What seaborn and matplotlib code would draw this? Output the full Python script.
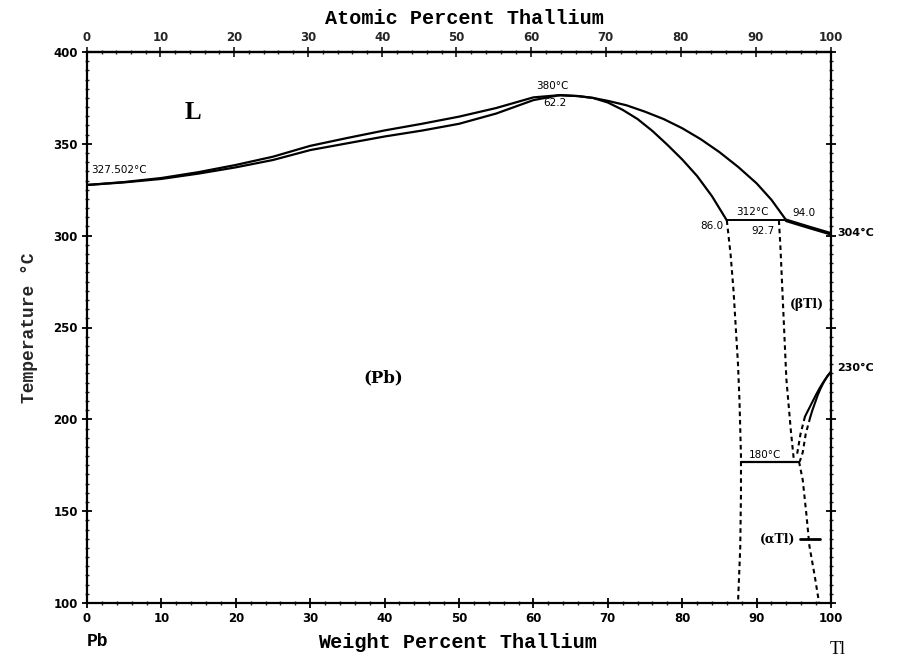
import numpy as np
import pandas as pd
import matplotlib
matplotlib.use("Agg")
import matplotlib.pyplot as plt
import seaborn as sns
from matplotlib.ticker import MultipleLocator

# ---------------- data ----------------
liq_left_x = [0, 5, 10, 15, 20, 25, 30, 35, 40, 45, 50, 55, 60, 63.5]
liq_left_T = [327.6, 329.2, 331.4, 334.6, 338.5, 343.0, 348.9, 353.2, 357.3, 360.9,
              364.8, 369.5, 375.3, 376.5]
sol_left_x = [0, 5, 10, 15, 20, 25, 30, 35, 40, 45, 50, 55, 60, 63.5]
sol_left_T = [327.6, 329.0, 330.9, 333.8, 337.2, 341.2, 346.6, 350.3, 354.0, 357.2,
              360.9, 366.5, 373.8, 376.5]

liq_right_x = [63.5, 66, 68, 70, 72.5, 75, 77.5, 80, 82.5, 85, 87.5, 90, 92, 94.0]
liq_right_T = [376.5, 376.0, 375.0, 373.4, 371.0, 367.5, 363.5, 358.5, 352.5, 345.5,
               337.5, 328.5, 319.5, 308.3]
sol_right_x = [63.5, 66, 68, 70, 72, 74, 76, 78, 80, 82, 84, 86.0]
sol_right_T = [376.5, 376.0, 375.0, 372.5, 368.5, 363.5, 357.0, 349.5, 341.5, 332.5,
               321.5, 308.3]

liq_tl_x = [94.0, 97.0, 100.0]
liq_tl_T = [308.3, 304.6, 301.0]

peritectic_x = [86.0, 94.0]
peritectic_T = [308.3, 308.3]

pb_solvus_x = [86.0, 86.5, 86.9, 87.2, 87.5, 87.7, 87.9, 87.9, 87.8, 87.5]
pb_solvus_T = [308.3, 290.0, 270.0, 250.0, 230.0, 210.0, 180.0, 160.0, 130.0, 100.0]

btl_left_x = [93.0, 93.2, 93.4, 93.6, 93.8, 94.0, 94.3, 94.6, 95.0]
btl_left_T = [308.3, 294.0, 276.0, 258.0, 240.0, 222.0, 208.0, 194.0, 178.0]

tra_solid_x = [100.0, 99.5, 99.0, 98.5, 98.0, 97.5, 97.0, 96.5]
tra_solid_T = [226.0, 223.5, 220.5, 217.2, 213.5, 209.5, 205.5, 201.5]
tra_dash_x = [96.5, 95.9, 95.4]
tra_dash_T = [201.5, 192.0, 180.0]
trb_solid_x = [100.0, 99.5, 99.0, 98.6, 98.2, 97.9, 97.5, 97.2]
trb_solid_T = [226.0, 223.3, 220.0, 216.8, 213.0, 209.5, 205.0, 201.0]
trb_dash_x = [97.2, 96.6, 96.2, 95.8]
trb_dash_T = [201.0, 192.0, 182.0, 177.0]

eutectoid_x = [87.9, 95.7]
eutectoid_T = [177.0, 177.0]

atl_solvus_x = [95.7, 96.2, 96.7, 97.1, 97.8, 98.4]
atl_solvus_T = [177.0, 167.0, 148.0, 131.0, 115.0, 100.0]

atl_mark_x = [95.8, 98.5]
atl_mark_T = [135.0, 135.0]

x_ticks = [0, 10, 20, 30, 40, 50, 60, 70, 80, 90, 100]
y_ticks = [100, 150, 200, 250, 300, 350, 400]

M_PB, M_TL = 207.2, 204.38

def wt_to_at(w):
    w = np.asarray(w, dtype=float)
    a = w / M_TL
    b = (100 - w) / M_PB
    with np.errstate(divide="ignore", invalid="ignore"):
        return 100 * a / (a + b)

def at_to_wt(at):
    at = np.asarray(at, dtype=float)
    a = at * M_TL
    b = (100 - at) * M_PB
    with np.errstate(divide="ignore", invalid="ignore"):
        return 100 * a / (a + b)

# ---------------- figure ----------------
sns.set_theme(style="ticks")
plt.rcParams["font.family"] = ["DejaVu Sans"]

fig = plt.figure(figsize=(9.01, 6.61), dpi=100)
ax = fig.add_axes([87 / 901, 1 - 603 / 661, 744 / 901, 551 / 661])

def line(xs, ts, lw=1.6, ls="-"):
    df = pd.DataFrame({"x": xs, "T": ts})
    sns.lineplot(data=df, x="x", y="T", ax=ax, color="black", linewidth=lw,
                 sort=False, estimator=None, linestyle=ls)

line(liq_left_x, liq_left_T)
line(sol_left_x, sol_left_T)
line(liq_right_x, liq_right_T)
line(sol_right_x, sol_right_T)
line(liq_tl_x, liq_tl_T, lw=2.6)
line(peritectic_x, peritectic_T, lw=1.4)
dash = (0, (2.2, 1.8))
line(pb_solvus_x, pb_solvus_T, lw=1.5, ls=dash)
line(btl_left_x, btl_left_T, lw=1.5, ls=dash)
line(tra_solid_x, tra_solid_T, lw=1.5)
line(trb_solid_x, trb_solid_T, lw=1.5)
line(tra_dash_x, tra_dash_T, lw=1.5, ls=dash)
line(trb_dash_x, trb_dash_T, lw=1.5, ls=dash)
line(eutectoid_x, eutectoid_T, lw=1.6)
line(atl_solvus_x, atl_solvus_T, lw=1.5, ls=dash)
line(atl_mark_x, atl_mark_T, lw=2.0)

ax.set_xlim(0, 100)
ax.set_ylim(100, 400)

for s in ax.spines.values():
    s.set_linewidth(1.6)
    s.set_color("black")

ax.set_xticks(x_ticks)
ax.set_yticks(y_ticks)
ax.xaxis.set_minor_locator(MultipleLocator(2))
ax.yaxis.set_minor_locator(MultipleLocator(5))
ax.tick_params(axis="both", which="major", direction="inout", length=7, width=1.3,
               labelsize=8.5, colors="black", pad=3)
ax.tick_params(axis="both", which="minor", direction="inout", length=3, width=1.0)
ax.tick_params(axis="y", which="both", right=True)
for lab in ax.get_xticklabels() + ax.get_yticklabels():
    lab.set_fontweight("bold")
ax.set_xlabel("")
ax.set_ylabel("Temperature °C", fontfamily="Liberation Mono", fontweight="bold",
              fontsize=13, labelpad=11)

secax = ax.secondary_xaxis("top", functions=(wt_to_at, at_to_wt))
secax.set_xticks(x_ticks)
secax.xaxis.set_minor_locator(MultipleLocator(2))
secax.tick_params(axis="x", which="major", direction="inout", length=7, width=1.3,
                  labelsize=8.5, pad=2)
secax.tick_params(axis="x", which="minor", direction="inout", length=3, width=1.0)
for lab in secax.get_xticklabels():
    lab.set_fontweight("bold")
secax.spines["top"].set_linewidth(1.6)

mono = dict(fontfamily="Liberation Mono", fontweight="bold", color="black")
fig.text(464 / 901, 1 - 18 / 661, "Atomic Percent Thallium", ha="center", va="center",
         fontsize=14.5, **mono)
fig.text(458 / 901, 1 - 643 / 661, "Weight Percent Thallium", ha="center", va="center",
         fontsize=14.5, **mono)
fig.text(98 / 901, 1 - 642 / 661, "Pb", ha="center", va="center", fontsize=13, **mono)
fig.text(838 / 901, 1 - 650 / 661, "Tl", ha="center", va="center", fontsize=13,
         fontfamily="Liberation Serif", color="black")

small = dict(fontsize=7.5, color="black", fontfamily="DejaVu Sans")
ax.text(0.5, 335.5, "327.502°C", ha="left", va="center", **small)
ax.text(62.6, 381.5, "380°C", ha="center", va="center", **small)
ax.text(62.9, 372.0, "62.2", ha="center", va="center", **small)
ax.text(89.4, 312.8, "312°C", ha="center", va="center", **small)
ax.text(85.6, 305.5, "86.0", ha="right", va="center", **small)
ax.text(90.9, 302.5, "92.7", ha="center", va="center", **small)
ax.text(96.3, 312.4, "94.0", ha="center", va="center", **small)
ax.text(100.8, 301.5, "304°C", ha="left", va="center", fontweight="bold", fontsize=8, color="black")
ax.text(100.8, 228.0, "230°C", ha="left", va="center", fontweight="bold", fontsize=8, color="black")
ax.text(91.1, 180.5, "180°C", ha="center", va="center", **small)
ax.text(96.8, 262.3, "(βTl)", ha="center", va="center", fontsize=9, fontweight="bold",
        color="black", fontfamily="DejaVu Serif")
ax.text(95.2, 134.5, "(αTl)", ha="right", va="center", fontsize=9, fontweight="bold",
        color="black", fontfamily="DejaVu Serif")
ax.text(14.2, 367.3, "L", ha="center", va="center", fontsize=18, fontweight="bold",
        fontfamily="Liberation Serif", color="black")
ax.text(39.8, 222.5, "(Pb)", ha="center", va="center", fontsize=12, fontweight="bold",
        fontfamily="DejaVu Serif", color="black")

fig.savefig("out.png", dpi=100, facecolor="white")
